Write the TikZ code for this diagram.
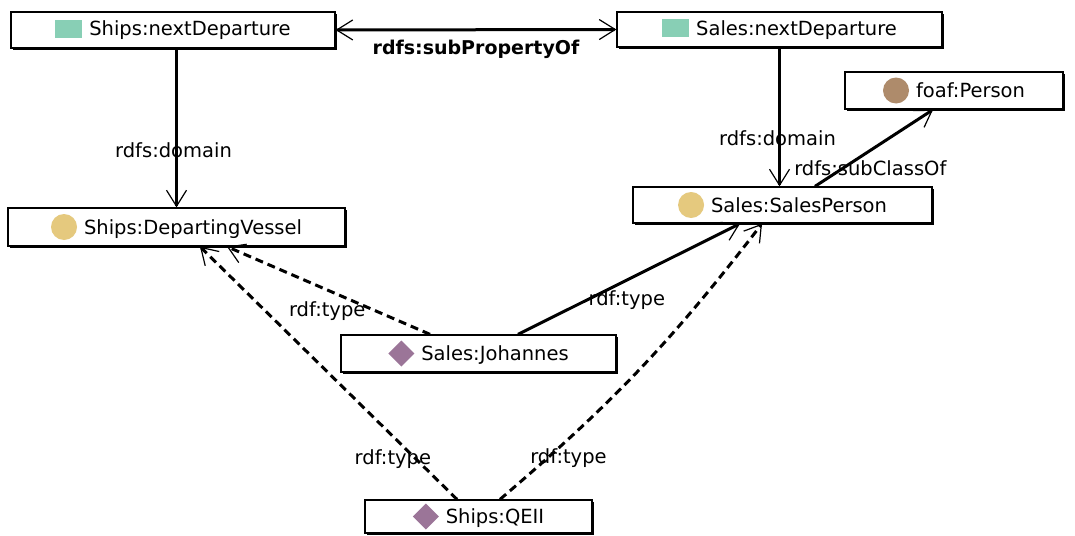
\documentclass[tikz,border=0pt]{standalone}
\usepackage{fontspec}
\setmainfont{DejaVu Sans}
\usetikzlibrary{arrows.meta,shadows}
\definecolor{propgreen}{HTML}{88CFB5}
\definecolor{classtan}{HTML}{E5C97E}
\definecolor{foafbrown}{HTML}{AE8B6B}
\definecolor{indpurple}{HTML}{9B7598}
\newcommand{\propicon}{{\color{propgreen}\rule[-2pt]{27pt}{18pt}}\hspace{7pt}}
\newcommand{\classicon}[1]{\tikz[baseline=-7pt]\fill[#1] (0pt,0pt) circle[radius=13pt];\hspace{7pt}}
\newcommand{\indicon}{\tikz[baseline=-7pt]\fill[indpurple] (-13pt,0pt) -- (0pt,13pt) -- (13pt,0pt) -- (0pt,-13pt) -- cycle;\hspace{7pt}}
\begin{document}
\begin{tikzpicture}[x=1pt,y=-1pt,
  every node/.style={font=\fontsize{19.5}{23}\selectfont},
  barb/.tip={Straight Barb[length=16pt,width=20pt,line width=1.2pt]},
  box/.style={draw,line width=1.3pt,fill=white,inner sep=0pt,
    general shadow={fill=black,shadow xshift=1.6pt,shadow yshift=-1.6pt}},
  rel/.style={line width=3pt,-barb},
  typeof/.style={rel,dash pattern=on 8pt off 5pt},
  lbl/.style={inner sep=1pt}]
\useasboundingbox (0,0) rectangle (1075,535);
% property, class and individual boxes
\node[box,minimum width=324pt,minimum height=36pt] (shipsnd) at (173,30) {\propicon Ships:nextDeparture};
\node[box,minimum width=325pt,minimum height=35pt] (salesnd) at (779.5,29.5) {\propicon Sales:nextDeparture};
\node[box,minimum width=218pt,minimum height=37pt] (foaf) at (954,90.5) {\classicon{foafbrown}foaf:Person};
\node[box,minimum width=299pt,minimum height=36pt] (salessp) at (782.5,205) {\classicon{classtan}Sales:SalesPerson};
\node[box,minimum width=337pt,minimum height=38pt] (shipsdv) at (176.5,227) {\classicon{classtan}Ships:DepartingVessel};
\node[box,minimum width=275pt,minimum height=37pt] (joh) at (478.5,353.5) {\indicon Sales:Johannes};
\node[box,minimum width=227pt,minimum height=33pt] (qe) at (478.5,516.5) {\indicon Ships:QEII};
% relations
\draw[rel,barb-barb] (shipsnd.east) -- (salesnd.west)
  node[lbl,midway,yshift=-20pt,font=\fontsize{19}{23}\selectfont\bfseries] {rdfs:subPropertyOf};
\draw[rel] (shipsnd.south -| shipsdv.north) -- (shipsdv.north)
  node[lbl,pos=0.64,xshift=-3pt] {rdfs:domain};
\draw[rel] (salesnd.south) -- (salesnd.south |- salessp.north)
  node[lbl,pos=0.65,xshift=-2pt] {rdfs:domain};
\draw[rel] ([xshift=32.5pt]salessp.north) -- ([xshift=-21pt]foaf.south)
  node[lbl,pos=0.24,xshift=27pt] {rdfs:subClassOf};
\draw[rel] ([xshift=39.5pt]joh.north) -- ([xshift=-42.5pt]salessp.south)
  node[lbl,pos=0.31,xshift=40pt] {rdf:type};
\draw[typeof] ([xshift=-48.5pt]joh.north) -- ([xshift=50.5pt]shipsdv.south)
  node[lbl,pos=0.26,xshift=-50pt] {rdf:type};
\draw[typeof] ([xshift=-21.5pt]qe.north) -- ([xshift=23.5pt]shipsdv.south)
  node[lbl,pos=0.16,xshift=-23pt] {rdf:type};
\draw[typeof] ([xshift=21.5pt]qe.north) to[bend right=6]
  node[lbl,pos=0.15,xshift=21pt] {rdf:type} ([xshift=-20.5pt]salessp.south);
\end{tikzpicture}
\end{document}
